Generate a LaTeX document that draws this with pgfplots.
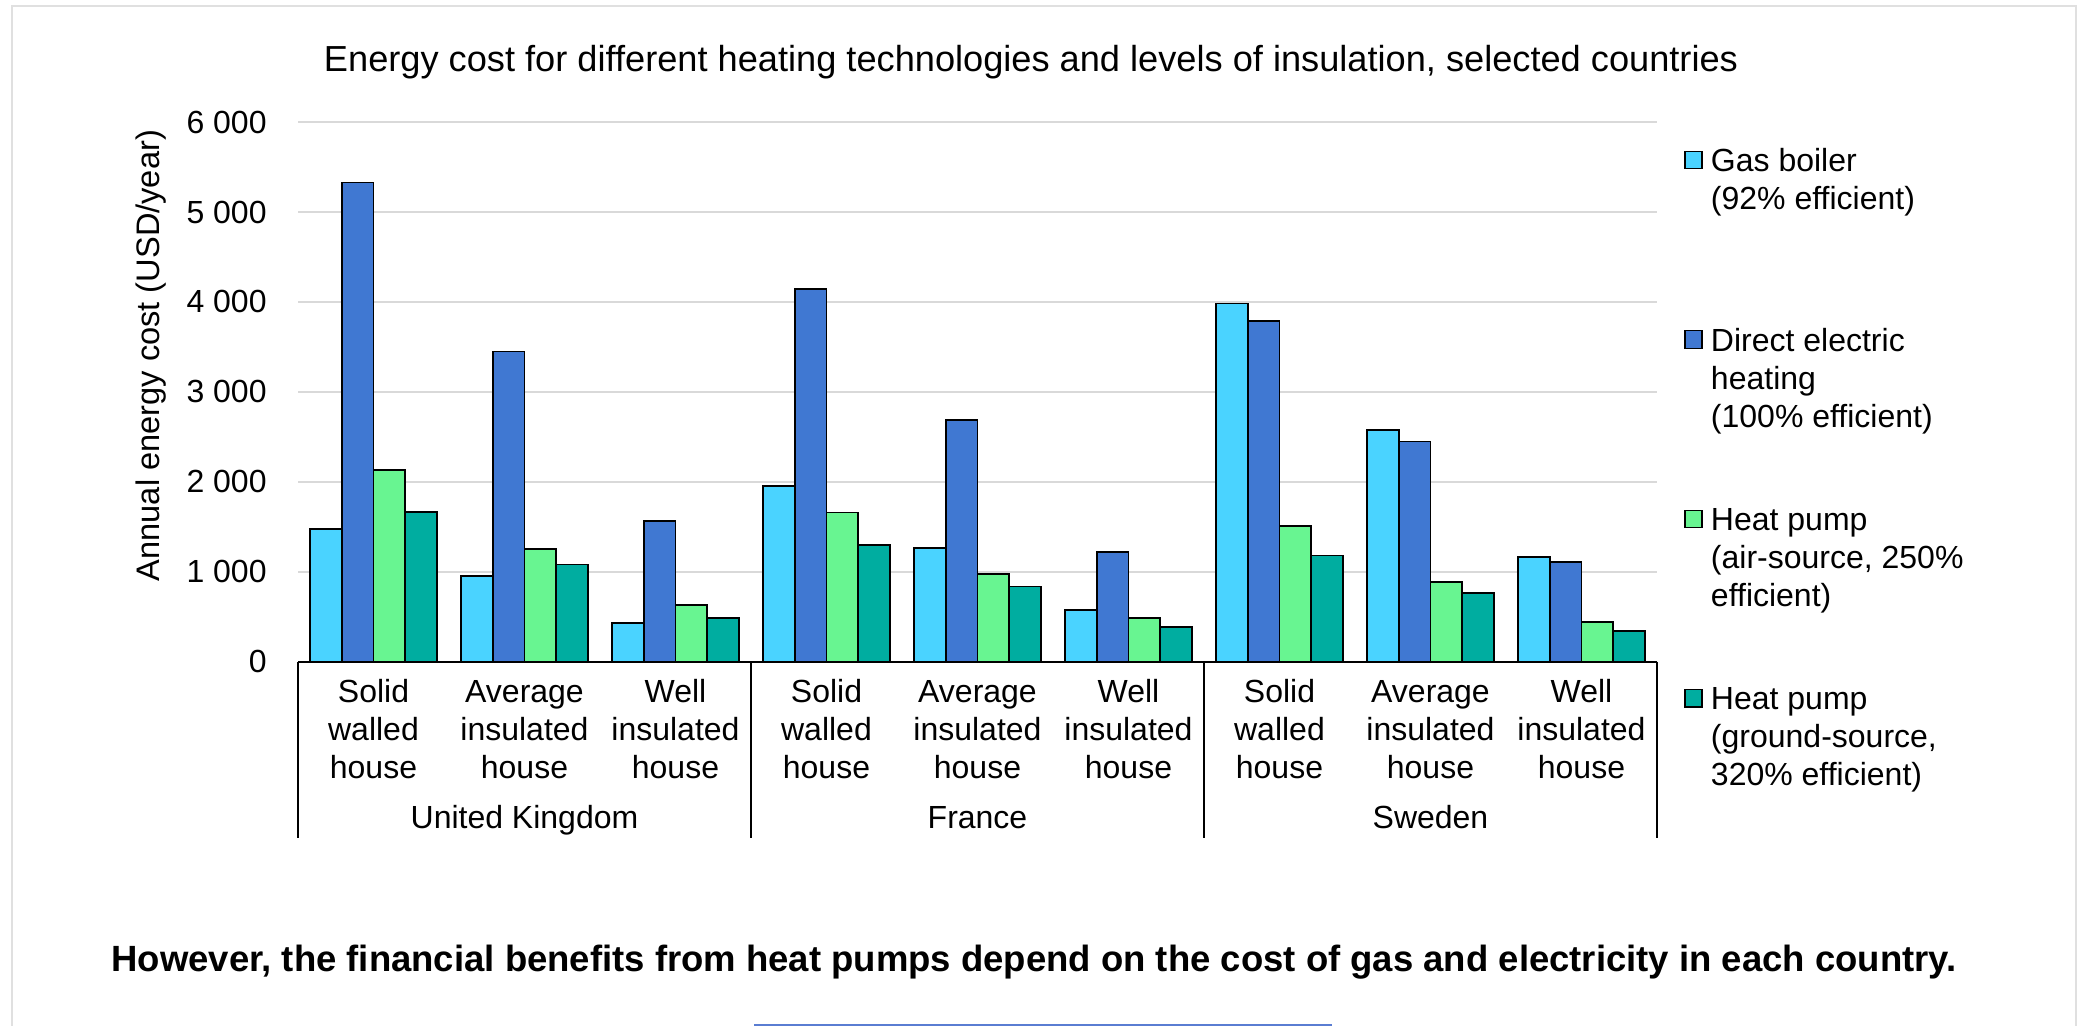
\documentclass[border=0pt]{standalone}
\usepackage{pgfplots}
\pgfplotsset{compat=1.18}
\usepackage{fontspec}
\setmainfont{Liberation Sans}
\definecolor{gasc}{RGB}{74,211,255}
\definecolor{dirc}{RGB}{64,120,210}
\definecolor{ashc}{RGB}{104,245,145}
\definecolor{gshc}{RGB}{0,173,160}
\definecolor{gridgrey}{RGB}{217,217,217}
\definecolor{framegrey}{RGB}{224,224,224}
\definecolor{linkblue}{RGB}{90,125,210}
\newcommand{\cl}[3]{\vtop{\fontsize{16}{19}\selectfont\hbox to 0pt{\hss #1\hss}\hbox to 0pt{\hss #2\hss}\hbox to 0pt{\hss #3\hss}}}
\newcommand{\legtxt}[3]{\vtop{\fontsize{16}{19}\selectfont\hbox{\vrule height 12pt depth 0pt width 0pt #1}\hbox{#2}\hbox{#3}}}
\begin{document}
\begin{tikzpicture}
\useasboundingbox (0,0) rectangle (1042.5pt,-513pt);
\draw[framegrey, line width=1pt] (5.85pt,-514pt) -- (5.85pt,-3pt) -- (1038pt,-3pt) -- (1038pt,-514pt);
\draw[linkblue, line width=1pt] (377pt,-512.6pt) -- (666pt,-512.6pt);
\node[anchor=base, font=\fontsize{18.1}{21}\selectfont, inner sep=0pt] at (515.5pt,-35.85pt) {Energy cost for different heating technologies and levels of insulation, selected countries};
\node[rotate=90, font=\fontsize{16.3}{19}\selectfont, inner sep=0pt] at (75.5pt,-177.8pt) {Annual energy cost (USD/year)};
\node[anchor=base, font=\fontsize{18.25}{21}\selectfont\bfseries, inner sep=0pt] at (517pt,-485.85pt) {However, the financial benefits from heat pumps depend on the cost of gas and electricity in each country.};
\begin{axis}[
  at={(149pt,-330.75pt)}, anchor=south west,
  scale only axis, width=679.5pt, height=269.65pt,
  xmin=-0.5, xmax=8.5, ymin=0, ymax=6000,
  axis line style={draw=none},
  major tick length=0pt,
  ytick={0,1000,2000,3000,4000,5000,6000},
  yticklabels={0,1 000,2 000,3 000,4 000,5 000,6 000},
  yticklabel style={anchor=east, inner sep=0pt, xshift=-15.5pt, font=\fontsize{16}{19}\selectfont},
  xtick={0,1,2,3,4,5,6,7,8},
  xticklabels={\cl{Solid}{walled}{house},\cl{Average}{insulated}{house},\cl{Well}{insulated}{house},\cl{Solid}{walled}{house},\cl{Average}{insulated}{house},\cl{Well}{insulated}{house},\cl{Solid}{walled}{house},\cl{Average}{insulated}{house},\cl{Well}{insulated}{house}},
  xticklabel style={anchor=base, inner sep=0pt, yshift=-20.6pt},
  ymajorgrids, grid style={draw=gridgrey, line width=1pt},
  ybar, bar width=0.21,
  every axis plot/.append style={draw=black, line width=0.85pt},
  area legend,
  legend image code/.code={\path[draw=none, fill=none] (0pt,-77.7pt) rectangle (0pt,0pt); \draw[#1, line width=0.6pt] (0pt,1.4pt) rectangle (8.5pt,10.15pt);},
  legend cell align=left,
  legend style={at={(axis description cs:1.01987,0.9535)}, anchor=north west, draw=none, fill=none, inner sep=0pt, row sep=0pt, column sep=4.2pt, nodes={inner sep=0pt, anchor=base west}},
  clip=false,
]
\addplot[fill=gasc, bar shift=-0.315] coordinates {(0,1473)(1,951)(2,432)(3,1955)(4,1263)(5,572)(6,3984)(7,2576)(8,1165)};
\addlegendentry{\legtxt{Gas boiler}{(92\% efficient)}{}}
\addplot[fill=dirc, bar shift=-0.105] coordinates {(0,5330)(1,3448)(2,1564)(3,4144)(4,2687)(5,1218)(6,3786)(7,2449)(8,1107)};
\addlegendentry{\legtxt{Direct electric}{heating}{(100\% efficient)}}
\addplot[fill=ashc, bar shift=0.105] coordinates {(0,2132)(1,1251)(2,626)(3,1658)(4,975)(5,481)(6,1510)(7,885)(8,440)};
\addlegendentry{\legtxt{Heat pump}{(air-source, 250\%}{efficient)}}
\addplot[fill=gshc, bar shift=0.315] coordinates {(0,1667)(1,1078)(2,485)(3,1296)(4,835)(5,383)(6,1181)(7,761)(8,342)};
\addlegendentry{\legtxt{Heat pump}{(ground-source,}{320\% efficient)}}
\draw[line width=1pt] (rel axis cs:0,0) -- (rel axis cs:1,0);
\draw[line width=1pt] (rel axis cs:0,0) -- ++(0pt,-88.25pt);
\draw[line width=1pt] (rel axis cs:0.33333,0) -- ++(0pt,-88.25pt);
\draw[line width=1pt] (rel axis cs:0.66667,0) -- ++(0pt,-88.25pt);
\draw[line width=1pt] (rel axis cs:1,0) -- ++(0pt,-88.25pt);
\node[anchor=base, inner sep=0pt, font=\fontsize{16}{19}\selectfont, yshift=-83.25pt] at (axis cs:1,0) {United Kingdom};
\node[anchor=base, inner sep=0pt, font=\fontsize{16}{19}\selectfont, yshift=-83.25pt] at (axis cs:4,0) {France};
\node[anchor=base, inner sep=0pt, font=\fontsize{16}{19}\selectfont, yshift=-83.25pt] at (axis cs:7,0) {Sweden};
\end{axis}
\end{tikzpicture}
\end{document}
